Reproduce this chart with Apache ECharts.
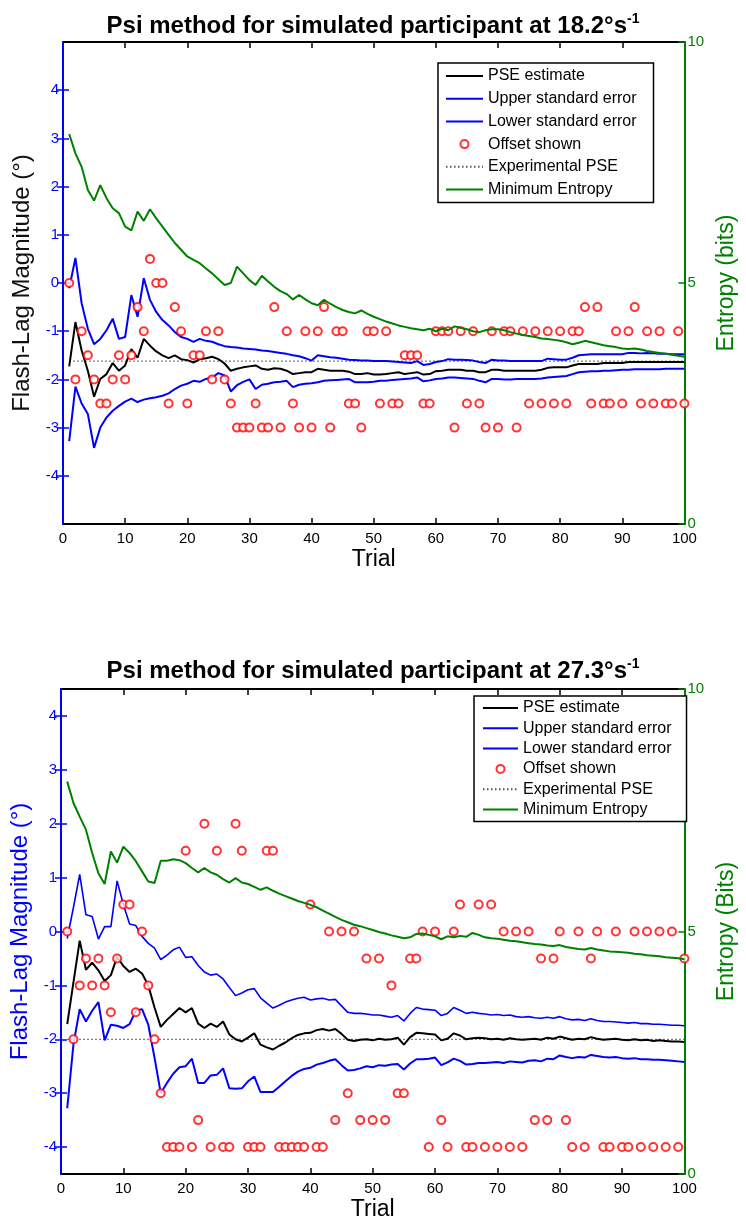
<!DOCTYPE html>
<html><head><meta charset="utf-8">
<script src="https://cdn.jsdelivr.net/npm/echarts@6/dist/echarts.min.js"></script>
<style>html,body{margin:0;padding:0;background:#fff}#c{width:746px;height:1225px}</style>
</head><body><div id="c"></div>
<script>
// ---------- DATA ----------
const trials = Array.from({length:100},(_,i)=>i+1);
const yTicks = [-4,-3,-2,-1,0,1,2,3,4];
const xTicks = [0,10,20,30,40,50,60,70,80,90,100];

// Chart 1: 18.2 deg/s
const pse1 = [-1.73,-0.81,-1.40,-1.82,-2.36,-1.99,-1.89,-1.66,-1.82,-1.71,
-1.37,-1.55,-1.16,-1.30,-1.42,-1.50,-1.56,-1.50,-1.58,-1.60,
-1.65,-1.58,-1.56,-1.53,-1.58,-1.67,-1.82,-1.78,-1.75,-1.73,
-1.71,-1.78,-1.80,-1.77,-1.78,-1.82,-1.89,-1.87,-1.85,-1.85,
-1.78,-1.80,-1.82,-1.82,-1.82,-1.84,-1.89,-1.89,-1.87,-1.90,
-1.90,-1.89,-1.87,-1.85,-1.89,-1.87,-1.85,-1.90,-1.89,-1.83,
-1.82,-1.80,-1.80,-1.80,-1.82,-1.82,-1.85,-1.85,-1.80,-1.80,
-1.82,-1.82,-1.82,-1.82,-1.82,-1.82,-1.80,-1.76,-1.75,-1.75,
-1.75,-1.71,-1.68,-1.68,-1.68,-1.68,-1.66,-1.66,-1.66,-1.66,
-1.64,-1.64,-1.64,-1.64,-1.64,-1.64,-1.64,-1.64,-1.64,-1.64];
const upper1 = [-0.11,0.52,-0.42,-0.95,-1.27,-1.16,-0.98,-0.74,-1.16,-1.12,
-0.25,-0.70,0.10,-0.35,-0.60,-0.77,-0.88,-1.02,-1.12,-1.16,
-1.22,-1.16,-1.20,-1.22,-1.27,-1.31,-1.33,-1.34,-1.36,-1.37,
-1.38,-1.40,-1.41,-1.43,-1.45,-1.47,-1.50,-1.52,-1.56,-1.61,
-1.50,-1.52,-1.54,-1.55,-1.57,-1.59,-1.60,-1.61,-1.61,-1.62,
-1.62,-1.62,-1.63,-1.64,-1.65,-1.66,-1.62,-1.70,-1.68,-1.64,
-1.62,-1.58,-1.59,-1.59,-1.60,-1.61,-1.64,-1.66,-1.59,-1.61,
-1.61,-1.62,-1.62,-1.62,-1.62,-1.62,-1.62,-1.57,-1.58,-1.59,
-1.59,-1.55,-1.50,-1.49,-1.48,-1.48,-1.48,-1.48,-1.48,-1.48,
-1.45,-1.45,-1.46,-1.45,-1.46,-1.47,-1.47,-1.48,-1.48,-1.48];
const lower1 = [-3.28,-2.15,-2.50,-2.72,-3.42,-3.00,-2.79,-2.65,-2.55,-2.46,
-2.40,-2.47,-2.42,-2.39,-2.37,-2.34,-2.29,-2.20,-2.13,-2.09,
-2.03,-2.05,-1.99,-1.96,-1.87,-1.92,-2.25,-2.12,-2.05,-2.00,
-2.20,-2.11,-2.09,-2.06,-2.05,-2.03,-2.16,-2.11,-2.09,-2.08,
-2.06,-2.03,-2.02,-2.01,-2.00,-1.99,-2.06,-2.06,-2.06,-2.05,
-2.03,-2.03,-2.01,-2.00,-1.99,-1.98,-1.96,-2.04,-2.02,-1.99,
-1.98,-1.96,-1.96,-1.97,-1.98,-1.99,-2.03,-2.06,-1.99,-1.99,
-2.00,-2.00,-1.99,-1.99,-1.99,-1.99,-1.98,-1.96,-1.95,-1.94,
-1.93,-1.89,-1.85,-1.84,-1.83,-1.83,-1.82,-1.82,-1.81,-1.80,
-1.80,-1.79,-1.79,-1.79,-1.79,-1.79,-1.78,-1.78,-1.78,-1.78];
const offset1 = [0,-2,-1,-1.5,-2,-2.5,-2.5,-2,-1.5,-2,
-1.5,-0.5,-1,0.5,0,0,-2.5,-0.5,-1,-2.5,
-1.5,-1.5,-1,-2,-1,-2,-2.5,-3,-3,-3,
-2.5,-3,-3,-0.5,-3,-1,-2.5,-3,-1,-3,
-1,-0.5,-3,-1,-1,-2.5,-2.5,-3,-1,-1,
-2.5,-1,-2.5,-2.5,-1.5,-1.5,-1.5,-2.5,-2.5,-1,
-1,-1,-3,-1,-2.5,-1,-2.5,-3,-1,-3,
-1,-1,-3,-1,-2.5,-1,-2.5,-1,-2.5,-1,
-2.5,-1,-1,-0.5,-2.5,-0.5,-2.5,-2.5,-1,-2.5,
-1,-0.5,-2.5,-1,-2.5,-1,-2.5,-2.5,-1,-2.5];
const expPse1 = -1.62;
const entropy1 = [8.09,7.69,7.41,6.93,6.71,7.03,6.76,6.55,6.45,6.17,
6.09,6.48,6.29,6.53,6.34,6.17,6.00,5.83,5.69,5.55,
5.48,5.41,5.30,5.20,5.08,4.96,5.00,5.34,5.20,5.06,
4.96,5.15,5.03,4.92,4.83,4.77,4.66,4.75,4.66,4.58,
4.54,4.65,4.57,4.50,4.44,4.40,4.37,4.43,4.36,4.30,
4.25,4.20,4.16,4.12,4.09,4.06,4.04,4.02,4.05,4.00,
4.05,4.02,4.10,4.07,4.04,4.00,3.98,4.02,4.04,4.04,
4.02,3.98,3.95,3.92,3.90,3.88,3.85,3.84,3.82,3.80,
3.77,3.73,3.76,3.80,3.77,3.74,3.71,3.69,3.67,3.64,
3.63,3.64,3.62,3.59,3.57,3.55,3.53,3.51,3.49,3.47];

// Chart 2: 27.3 deg/s
const pse2 = [-1.72,-0.94,-0.17,-0.71,-0.58,-0.72,-0.92,-0.81,-0.47,-0.64,
-0.75,-0.69,-0.78,-1.00,-1.41,-1.77,-1.64,-1.53,-1.42,-1.50,
-1.42,-1.71,-1.79,-1.71,-1.77,-1.67,-1.91,-2.00,-2.04,-1.97,
-1.89,-2.10,-2.15,-2.19,-2.12,-2.06,-1.98,-1.92,-1.89,-1.88,
-1.83,-1.81,-1.84,-1.81,-1.90,-2.01,-2.03,-2.01,-2.00,-2.02,
-1.99,-2.01,-2.00,-1.97,-2.10,-1.96,-1.88,-1.89,-1.90,-1.91,
-2.02,-1.99,-1.89,-1.93,-2.00,-1.98,-1.97,-1.98,-2.00,-1.99,
-2.01,-1.98,-2.00,-2.01,-2.00,-1.99,-2.01,-1.97,-1.99,-1.95,
-1.98,-2.01,-1.99,-2.00,-1.96,-1.99,-2.01,-2.00,-1.99,-2.01,
-2.02,-2.00,-2.02,-2.01,-2.03,-2.02,-2.03,-2.04,-2.04,-2.05];
const upper2 = [-0.13,0.45,1.06,0.31,0.28,-0.14,0.09,0.09,0.94,0.50,
0.14,0.11,-0.09,-0.22,-0.31,-0.52,-0.44,-0.34,-0.29,-0.48,
-0.47,-0.63,-0.75,-0.81,-0.79,-0.88,-1.04,-1.19,-1.14,-1.08,
-1.06,-1.23,-1.33,-1.42,-1.37,-1.31,-1.27,-1.24,-1.22,-1.27,
-1.25,-1.24,-1.27,-1.26,-1.38,-1.50,-1.52,-1.52,-1.53,-1.55,
-1.55,-1.57,-1.59,-1.56,-1.66,-1.52,-1.41,-1.44,-1.45,-1.46,
-1.56,-1.52,-1.41,-1.46,-1.52,-1.50,-1.52,-1.53,-1.55,-1.54,
-1.56,-1.55,-1.58,-1.59,-1.58,-1.60,-1.61,-1.59,-1.61,-1.58,
-1.62,-1.64,-1.63,-1.65,-1.62,-1.65,-1.67,-1.67,-1.68,-1.69,
-1.70,-1.69,-1.71,-1.71,-1.72,-1.72,-1.73,-1.74,-1.74,-1.75];
const lower2 = [-3.28,-2.09,-1.44,-1.67,-1.47,-1.31,-2.02,-1.73,-1.75,-1.79,
-1.72,-1.47,-1.44,-1.73,-2.34,-3.00,-2.81,-2.64,-2.52,-2.50,
-2.36,-2.81,-2.81,-2.67,-2.66,-2.54,-2.91,-2.92,-2.91,-2.78,
-2.69,-2.98,-2.98,-2.98,-2.88,-2.78,-2.68,-2.60,-2.55,-2.53,
-2.47,-2.44,-2.40,-2.37,-2.48,-2.58,-2.57,-2.54,-2.50,-2.52,
-2.48,-2.49,-2.47,-2.46,-2.56,-2.45,-2.37,-2.37,-2.36,-2.34,
-2.48,-2.43,-2.36,-2.40,-2.47,-2.46,-2.44,-2.44,-2.43,-2.42,
-2.44,-2.41,-2.42,-2.43,-2.40,-2.39,-2.41,-2.36,-2.37,-2.30,
-2.33,-2.35,-2.33,-2.34,-2.29,-2.31,-2.33,-2.34,-2.33,-2.35,
-2.36,-2.35,-2.37,-2.37,-2.38,-2.38,-2.39,-2.40,-2.41,-2.42];
const offset2 = [0,-2,-1,-0.5,-1,-0.5,-1,-1.5,-0.5,0.5,
0.5,-1.5,0,-1,-2,-3,-4,-4,-4,1.5,
-4,-3.5,2,-4,1.5,-4,-4,2,1.5,-4,
-4,-4,1.5,1.5,-4,-4,-4,-4,-4,0.5,
-4,-4,0,-3.5,0,-3,0,-3.5,-0.5,-3.5,
-0.5,-3.5,-1,-3,-3,-0.5,-0.5,0,-4,0,
-3.5,-4,0,0.5,-4,-4,0.5,-4,0.5,-4,
0,-4,0,-4,0,-3.5,-0.5,-3.5,-0.5,0,
-3.5,-4,0,-4,-0.5,0,-4,-4,0,-4,
-4,0,-4,0,-4,0,-4,0,-4,-0.5];
const expPse2 = -2.0;
const entropy2 = [8.09,7.65,7.37,7.10,6.62,6.20,5.98,6.65,6.42,6.75,
6.62,6.45,6.24,6.03,6.00,6.46,6.46,6.49,6.47,6.41,
6.31,6.22,6.31,6.22,6.17,6.08,6.01,6.10,6.01,5.98,
5.92,5.86,5.91,5.84,5.78,5.73,5.68,5.63,5.59,5.55,
5.50,5.43,5.37,5.30,5.24,5.19,5.14,5.11,5.07,5.03,
4.99,4.96,4.92,4.89,4.86,4.88,4.95,4.96,4.93,4.90,
4.84,4.90,4.88,4.91,4.89,4.97,4.93,4.88,4.86,4.85,
4.83,4.81,4.80,4.78,4.76,4.74,4.73,4.71,4.70,4.72,
4.68,4.66,4.64,4.63,4.66,4.63,4.61,4.59,4.58,4.57,
4.56,4.54,4.53,4.51,4.50,4.49,4.47,4.46,4.45,4.43];

const legendNames = ['PSE estimate','Upper standard error','Lower standard error','Offset shown','Experimental PSE','Minimum Entropy'];

// ---------- STYLE ----------
const BLUE='#0000ff', GREEN='#008000', RED='#ff0000', FONT='Liberation Sans, Arial, sans-serif';
const pair = arr => arr.map((v,i)=>[trials[i],v]);

function axesFor(g, cfg){
  const xs = [
    {gridIndex:g,type:'value',min:0,max:100,interval:10,position:'bottom',
     name:'Trial',nameLocation:'middle',nameGap:cfg.xNameGap,
     nameTextStyle:{fontFamily:FONT,fontSize:23,color:'#000'},
     axisLine:{onZero:false,lineStyle:{color:'#000',width:2}},
     axisTick:{inside:true,length:6,lineStyle:{color:'#000',width:1.5}},
     axisLabel:{fontFamily:FONT,fontSize:15,color:'#000',margin:7},
     splitLine:{show:false}},
    {gridIndex:g,type:'value',min:0,max:100,interval:10,position:'top',
     axisLine:{onZero:false,lineStyle:{color:'#000',width:2}},
     axisTick:{inside:true,length:6,lineStyle:{color:'#000',width:1.5}},
     axisLabel:{show:false},splitLine:{show:false}}
  ];
  const ys = [
    {gridIndex:g,type:'value',min:cfg.ymin,max:cfg.ymax,position:'left',
     name:'Flash-Lag Magnitude (°)',nameLocation:'middle',nameRotate:90,nameGap:24,
     nameTextStyle:{fontFamily:FONT,fontSize:24,color:cfg.yNameColor},
     axisLine:{onZero:false,lineStyle:{color:BLUE,width:2}},
     axisTick:{inside:true,length:6,customValues:yTicks,lineStyle:{color:BLUE,width:1.5}},
     axisLabel:{customValues:yTicks,fontFamily:FONT,fontSize:15,color:BLUE,margin:4},
     splitLine:{show:false},z:3},
    {gridIndex:g,type:'value',min:0,max:10,interval:5,position:'right',
     name:cfg.entName,nameLocation:'middle',nameRotate:90,nameGap:27,
     nameTextStyle:{fontFamily:FONT,fontSize:23,color:GREEN},
     axisLine:{onZero:false,lineStyle:{color:GREEN,width:2}},
     axisTick:{inside:true,length:6,lineStyle:{color:GREEN,width:1.5}},
     axisLabel:{fontFamily:FONT,fontSize:15,color:GREEN,margin:3},
     splitLine:{show:false},z:3},
    {gridIndex:g,type:'value',min:cfg.ymin,max:cfg.ymax,position:'right',
     axisLine:{show:false},
     axisTick:{inside:true,length:6,customValues:yTicks,lineStyle:{color:BLUE,width:1.5}},
     axisLabel:{show:false},splitLine:{show:false}}
  ];
  return {xs,ys};
}

function seriesFor(k, d){
  const xi = k*2, yi = k*3;
  const tag = '#'+k;
  return [
    {name:legendNames[0]+tag,type:'line',xAxisIndex:xi,yAxisIndex:yi,data:pair(d.pse),symbol:'none',
     lineStyle:{color:'#000',width:2},itemStyle:{color:'#000'},z:3},
    {name:legendNames[1]+tag,type:'line',xAxisIndex:xi,yAxisIndex:yi,data:pair(d.upper),symbol:'none',
     lineStyle:{color:BLUE,width:d.upW},itemStyle:{color:BLUE},z:3},
    {name:legendNames[2]+tag,type:'line',xAxisIndex:xi,yAxisIndex:yi,data:pair(d.lower),symbol:'none',
     lineStyle:{color:BLUE,width:2},itemStyle:{color:BLUE},z:3},
    {name:legendNames[3]+tag,type:'scatter',xAxisIndex:xi,yAxisIndex:yi,data:pair(d.offset),
     symbol:'emptyCircle',symbolSize:8,itemStyle:{color:RED,borderColor:RED,borderWidth:2},z:4},
    {name:legendNames[4]+tag,type:'line',xAxisIndex:xi,yAxisIndex:yi,
     data:[[trials[0],d.exp],[trials[trials.length-1],d.exp]],symbol:'none',
     lineStyle:{color:'#555',width:1.2,type:[1.5,2.5]},itemStyle:{color:'#555'},z:2},
    {name:legendNames[5]+tag,type:'line',xAxisIndex:xi,yAxisIndex:yi+1,data:pair(d.ent),symbol:'none',
     lineStyle:{color:GREEN,width:2},itemStyle:{color:GREEN},z:5}
  ];
}

const a1 = axesFor(0,{ymin:-5,ymax:5,xNameGap:24,yNameColor:'#111',entName:'Entropy (bits)'});
const a2 = axesFor(1,{ymin:-4.5,ymax:4.5,xNameGap:24,yNameColor:BLUE,entName:'Entropy (Bits)'});

function legendFor(k, pos){
  return {orient:'vertical',left:pos.left,top:pos.top,
    data:legendNames.map((n,i)=> i===3 ? {name:n+'#'+k} : {name:n+'#'+k,itemStyle:{opacity:0}}),
    formatter:n=>n.replace(/#\d$/,''),
    itemWidth:pos.iw,itemHeight:8,itemGap:pos.gap,padding:pos.pad,
    backgroundColor:'#fff',borderColor:'#000',borderWidth:1.5,borderRadius:0,
    selectedMode:false,
    textStyle:{fontFamily:FONT,fontSize:16,color:'#000',lineHeight:16},
    z:10};
}

const titleRich = {
  a:{fontFamily:FONT,fontSize:24,fontWeight:'bold',color:'#000',lineHeight:28},
  s:{fontFamily:FONT,fontSize:14,fontWeight:'bold',color:'#000',verticalAlign:'top',lineHeight:14}
};

const option = {
  animation:false,
  backgroundColor:'#fff',
  title:[
    {text:'{a|Psi method for simulated participant at 18.2°s}{s|-1}',left:'center',top:7,textStyle:{rich:titleRich}},
    {text:'{a|Psi method for simulated participant at 27.3°s}{s|-1}',left:'center',top:652,textStyle:{rich:titleRich}}
  ],
  grid:[
    {left:63,top:42,width:629,height:482},
    {left:61,top:689,width:630,height:485}
  ],
  xAxis:[...a1.xs,...a2.xs],
  yAxis:[...a1.ys,...a2.ys],
  legend:[
    legendFor(0,{left:438,top:63,iw:37,gap:6.7,pad:[5,17,5,7]}),
    legendFor(1,{left:474,top:696,iw:35,gap:4.3,pad:[4,15,4,8]})
  ],
  series:[
    ...seriesFor(0,{pse:pse1,upper:upper1,lower:lower1,offset:offset1,exp:expPse1,ent:entropy1,upW:2}),
    ...seriesFor(1,{pse:pse2,upper:upper2,lower:lower2,offset:offset2,exp:expPse2,ent:entropy2,upW:1.6})
  ]
};
const chart = echarts.init(document.getElementById('c'),null,{renderer:'canvas'});
chart.setOption(option);
</script></body></html>
